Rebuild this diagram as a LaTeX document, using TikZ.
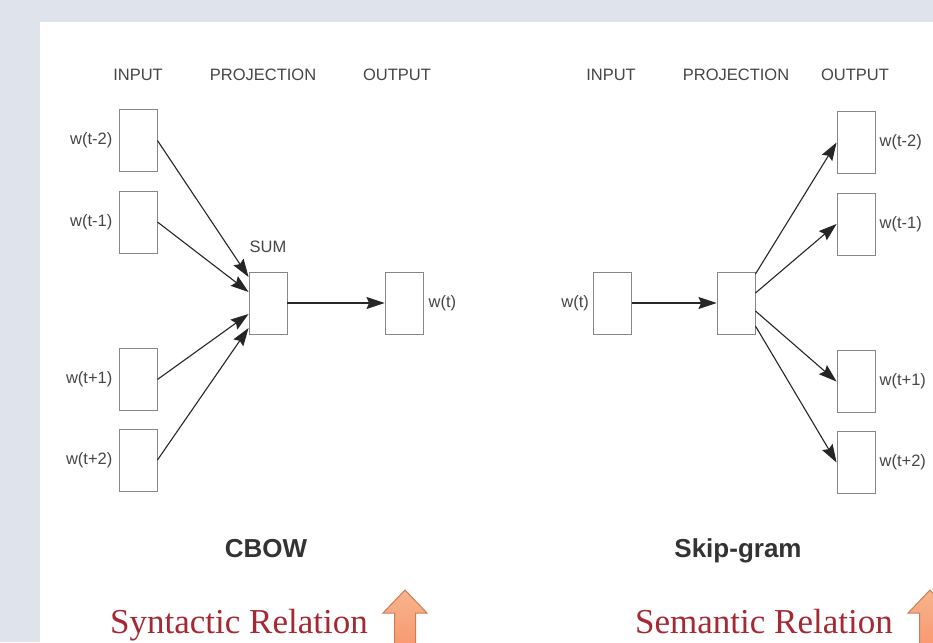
\documentclass[tikz,border=0pt]{standalone}
\usepackage{fontspec}
\setmainfont{Liberation Serif}
\setsansfont{Liberation Sans}
\usetikzlibrary{arrows.meta,positioning}

\definecolor{panelbg}{RGB}{223,227,236}
\definecolor{boxline}{RGB}{135,135,135}
\definecolor{labelgray}{RGB}{70,70,70}
\definecolor{relred}{RGB}{165,40,50}
\definecolor{arrowedge}{RGB}{205,125,85}
\definecolor{arrowtop}{RGB}{246,180,140}
\definecolor{arrowbot}{RGB}{250,145,105}

\tikzset{
  wordbox/.style={draw=boxline,line width=0.9pt,minimum width=38pt,minimum height=62pt,inner sep=0pt},
  lbl/.style={font=\sffamily\fontsize{16.5}{18}\selectfont,text=labelgray,inner sep=0pt},
  post/.style={-{Stealth[length=18pt,width=12pt,inset=2.5pt]},draw=black!85,line width=1.1pt},
  title/.style={font=\sffamily\bfseries\fontsize{26}{30}\selectfont,text=black!80,inner sep=0pt},
  relation/.style={font=\fontsize{35}{40}\selectfont,text=relred,inner sep=0pt},
  uparrow/.style={draw=arrowedge,line width=1pt,top color=arrowtop,bottom color=arrowbot}
}

\begin{document}
\begin{tikzpicture}[x=1pt,y=-1pt,node distance=5pt]

\useasboundingbox (0,0) rectangle (933,642);
\clip (0,0) rectangle (933,642);
\fill [panelbg] (0,0) rectangle (933,642);
\fill [white] (40,22) rectangle (933,642);

% CBOW
\node [lbl] (cb-in-head) at (138,75) {INPUT};
\node [lbl] (cb-proj-head) at (263,75) {PROJECTION};
\node [lbl] (cb-out-head) at (397,75) {OUTPUT};

\node [wordbox] (sum) at (268,303) {};
\node [lbl] (sum-lbl) [above=19pt of sum] {SUM};

\node [wordbox] (cb-out) at (404,303) {};
\node [lbl] (cb-out-lbl) [right=of cb-out] {w(t)};
\draw [post] (sum.east) -- (cb-out.west);

\foreach \nm/\txt/\y/\s in {cb-m2/w(t-2)/140.5/26, cb-m1/w(t-1)/222/11,
                            cb-p1/w(t+1)/379.5/-11, cb-p2/w(t+2)/460/-25} {
  \node [wordbox] (\nm) at (138,\y) {};
  \node [lbl] (\nm-lbl) [left=6pt of \nm] {\txt};
  \draw [post] (\nm.east) -- ([yshift=\s pt]sum.west);
}

\node [title, anchor=base] (cbow) at (266,557) {CBOW};

% Skip-gram
\node [lbl] (sg-in-head) at (611,75) {INPUT};
\node [lbl] (sg-proj-head) at (736,75) {PROJECTION};
\node [lbl] (sg-out-head) at (855,75) {OUTPUT};

\node [wordbox] (sg-in) at (612.5,303) {};
\node [lbl] (sg-in-lbl) [left=4pt of sg-in] {w(t)};
\node [wordbox] (sg-proj) at (736,303) {};
\draw [post] (sg-in.east) -- (sg-proj.west);

\foreach \nm/\txt/\y/\s in {sg-m2/w(t-2)/142.5/29, sg-m1/w(t-1)/224/10,
                            sg-p1/w(t+1)/381.5/-8, sg-p2/w(t+2)/462.5/-23} {
  \node [wordbox] (\nm) at (856,\y) {};
  \node [lbl] (\nm-lbl) [right=4pt of \nm] {\txt};
  \draw [post] ([yshift=\s pt]sg-proj.east) -- (\nm.west);
}

\node [title, anchor=base] (skipgram) at (738,557) {Skip-gram};

% relations
\node [relation, anchor=base] (syn) at (239,633) {Syntactic Relation};
\node [relation, anchor=base] (sem) at (764,633) {Semantic Relation};

\foreach \cx in {405,930}
  \draw [uparrow] ({\cx-10.5},660) -- ({\cx-10.5},613) -- ({\cx-22},613) -- (\cx,590)
    -- ({\cx+22},613) -- ({\cx+10.5},613) -- ({\cx+10.5},660) -- cycle;

\end{tikzpicture}
\end{document}
